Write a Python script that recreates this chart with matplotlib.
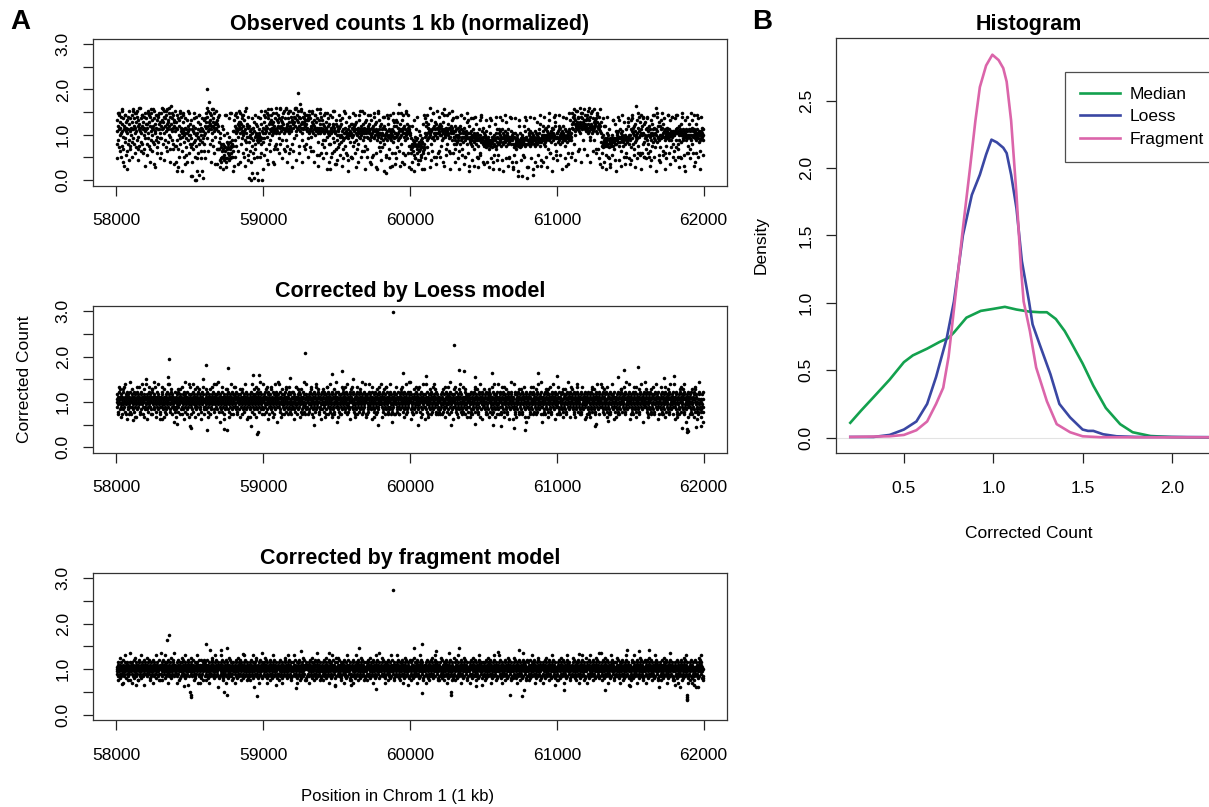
import numpy as np
import matplotlib
matplotlib.use("Agg")
import matplotlib.pyplot as plt

plt.rcParams['font.family'] = ['Liberation Sans', 'DejaVu Sans']

# ---------------- data ----------------
# Panel A: one string per 100 kb segment (58000 ... 62000); each character is one point.
# value = 1.0 + (index of character in ALPHABET - 25) * step   ('p' is 1.0)
ALPHABET = "0123456789abcdefghijklmnopqrstuvwxyzABCDEFGHIJKLMNOPQRSTUVWXYZ"
observed_step = 0.04
loess_step = 0.055
fragment_step = 0.05

observed_codes = [
    "rxkuBmsAiwptdzqjvCroyh8uslAnwrtgxqkzsmvbrjyps",
    "tAlwsDnuykqBtiwrzmCuohxsvjEtrlyqAkuswfzptnBrv",
    "sykvtCnqAjwuhzrmBtpxlsDuk9yqvrAmtioxszlBsvnwq",
    "uBnxsEkwtzqCmuyrAivtDlwsxpBuohzvFsmyrAtkxuwjC",
    "rwjtAmsyh7upxCnkrtzqo5srBwpldtqyinsaxqrmuBpsk",
    "pvixnsk2ruhqyl0mtpzjc5qwnsoAk3rmvgtplysnr1pxk",
    "uyqBtwnzOrCuswHkvxuAsmqDwuyjtBrvo9twsxhvzurAl",
    "hnbqckigudkhsbjpeiAgca7hlqfkioeyhlcBjfikdmrgj8",
    "rxmuAqtjzrsvo9uwsBwqkvtrnyuAqpdrxmsClqhvuotzb",
    "oulrgpn0syqjtmf1rwokhvqpmu4onzlqpsdomvkCrn0ql",
    "twnAsqzuhrotBy9AvqkmwsDxrpvtBsqwhurjysEqkxtrw",
    "uAnyqtEkxruzmwsvtCqhsyrDmtvjusBrywqfutCzsrxkw",
    "vBtznwuDyrEpxAtMwsjzuyrGtCvqwmztsyvjwuxAsvkxr",
    "tynxqAryisotuCrwgqvxsuAtprwsDtyqlsexrtvBqsztk",
    "rxmvsiuqBrmstwo6rqyukpvrkAtqsrzfnuvrClt9qrxvh",
    "pumsirptkxoupvlroyhmsqnCjtqorwepqsnbpuzqrlpvd",
    "qvotjspulrAvsmqwhpsrktqxoCsnrupgsqvmrBtoqwjrs",
    "qxorhuntqrvmsAxpoqtdrsuonzvrpw7sqmrBopqxisuql",
    "pvnsiqmtpkzupnsd4qrmpvoyhspnrAmqo8pslrxuonwfq",
    "qxoupwimqtnGrsovBpkxrsqfto9uqmsBpqvrntAqsjurp",
    "jqhnfkiugmjexlkocjsmfhnjkbgrlpjhmeklinvgfh6ki",
    "qyoupwimqtnvrsoEqpkxrsgntoBuqmswpqvdntoqsfurz",
    "qvptjupmsrqwnAsDrpohtqksrvpqnBtfsoqurxmtqyrok",
    "oumrhpkslzotmpgroukqAsmhonrqlytomqdnprwkoxnq8",
    "nulqmokrnjpmsyolqhmpnvkomnqcpjsnmxepnlzmrnokt",
    "lqjomkpirlmjnkolhumjqlkxmiolnamjkpnvmqjhsloke",
    "nskqmplrnjoxsnlqkonpmrljowqmpknsoclnmzorkpnm7",
    "kqioenjqkhmlpkn2jlukmiqlnkjpmoelknumjrkoxn1km",
    "mskqlpnjrmnkoqmlp3nkmomrjqnlwpkonmslqjmvn8lpm",
    "oumrnpksljotmpnrouhqpxmfonrqlptomqsnpzuwkoenq",
    "oqlrnumsopktnqorlpmuqnopsjmroynpl9oqmsrnpxoqm",
    "vBtzswkAyrvpxutCwsvzuyrhtwvqBuztsyvmwuxDsvtxr",
    "uAsyqtvExrouzmsvtCqusyrwmtvxuhyrBwqhutvzsrDuw",
    "lqjofkpiulmjnkulemnjqdkpmisln7mjkpnlmxjhnlvkm",
    "nrkqmplrnjoxsnlqgonpmrljownmpknsodlnmwoukpnm9",
    "pxisnrytkquhpvlroFpmxqnfjtzorwepqsAfpuyqkldvn",
    "pwhsoymtpkrupdsogqxmpvjqlspnAtmqiEpslrzuonbwm",
    "puisnxotpgqvoyrmsfqopjrtnApqmsoxpqirmpzoqkrpg",
    "pyrqismtAqkrhupmsqdpvlrpzqsmnrp8qoxmsprnfojps",
    "pvnrhsmpxtkpropsAnqrfovmqpsnyqrlpmgqpnrotqpms",
]

observed_edge_codes = [
    "cBgDaAe6Ch", "dCfBbEgAh8", "eBaDgC7fAc", "fDbCgEaBh9", "a5dBgA9eCf",
    "2aBd0fAc5g", "cEgBaDfC9h", "7a6cAcbBd5", "dBgCaAf8Ee", "1a4cAd0yf6",
    "eCbDgAa9Bh", "fDcBgEaCh7", "gEbCfDaBhA", "dCgBaAe8Df", "cAfBa6dCg9",
    "bAe8cBf5zd", "cBf7aAdCg6", "dAa9eBf6Cg", "bz5eAc7fB9", "cBg8aAeCf7",
    "6a5cz9bd6A", "cAf7bBd9Cg", "dBa8eAg6Cf", "azc6Ae9dBf", "5yb8zd7fAa",
    "9xa7yc6ezb", "6zb5Ac8dya", "6ya5xb2dz7", "7zc6ya8eAb", "azd7Bf5cAg",
    "bAe6zc8fBd", "fDbCgEaBhA", "eCaBgDfAc9", "7ya6zc9exb", "5zb8Ad9fyc",
    "bAe7cBf6zd", "czf8bAd5Be", "aBe6cAf9zd", "bAd7cBe5zf", "cBf8aAd6ze",
]

loess_codes = [
    "pqnsorlqtpmrqunoskpqrmtopqvnrlpsqokrtpnqmsprolqtnpk",
    "qpsnrmoqtlprqnsjopqrtmqspnovrqlpsmqtrponqkrsupqmrnw",
    "oqrpmsnqlrtpoqnsmrpqkutoprqnmsqpvrolqpnrtsmqoprnlqi",
    "rpqnsotqmpruoqlnpsqrmptoqwnprsqlomqtrpnsqkoprqmnptl",
    "pnqrmospqltnrpoqusmpqrknpsqomrtpqnlsorpqmtrpnqosjpv",
    "qrpnsoqmptrlqposnrqupmoqsrnpktqporsmnqplrqtosvpmqnk",
    "nqprosmqtplrqnposkrqupmnsqroptqlmrpsoqnrwpmqstopqrl",
    "pqsnrmopqtlrpnqsoimrqpuonsqrpmtqlpornsqkpqrtmopnqsv",
    "rpnqsomrtpqlnsqrpmoqupsnrqkptoqmrsplnqortpqmsnrpqoj",
    "oqprnmsqtplorqnspmrquposnqrjptmqsorpnlqrtpsmoqpnrqw",
    "mqsptrnolqrvpomsqtnprkqosnmpuqrlotpqsnkrqmpotsrqnpx",
    "sqnoprtmlpqrsokupqnmrsotpqlnvrpqomskrtpnqolsmpqrtno",
    "tpnqrmsolpqvrnoqkspmrtqnposlqrupmqnotrsplkqonrsmqpr",
    "nrqposmltqrpnuoqskmrpqtnolsprqmvnpoqrtslkpmqnrosqpt",
    "qmoprsntlpqorkmsqpvnrotqpslmnrqpotkqsrnmpluoqrsnptq",
    "oprqnmtslqpornkqsmpvtrqonpslrqmtponksqrlopmnqtrspqu",
    "rnqpomstqlprnkoqsmrpvtnqopslmqrtpnoksqrlmpqontrspqj",
    "kpqrsonmltpqrnosqmprvtqnoplsmqrptnokqsrlmpqnotsrpqw",
    "qposrnmtlqprokqsnmpvrtqonplsmrqptnkoqsrlmpqontrsqpk",
    "psqornmltpqrkonsqmprtvqnoplsmqrtpnokqsrlmpqnotrspqx",
    "tqmpsronlkpqrsumoqnptrlqsompnrvqopslnqtrkmposqrnpqi",
    "nqsrpmotlqrpksnoqupmrsqtlonpqrmswpoqnrltkpqosmrnpql",
    "rmpqosnktrqplosnqmvpqrtonslqprmoqkstnprqlomqpsrnqpu",
    "sponqrtmlkqpsrnoumqprtlnsoqpmrqvlonptrkqsmopnrqslpq",
    "qrnopsmtklpqrosnmqtpurlqsnoprmqklotsqnpjrmpqosrtnqp",
    "ponqsrmtlkpqnorsmqptulqrsonpmqrkltosqnprmjpqosrntqw",
    "omqprsntlkqponrsmqtpvlqrosnpmqrkltsoqnprmpqsortnqpi",
    "rpqonmstlkqpnrosmqtpulqrnospmqrkltosqnpqrmpjsortnqp",
    "qnprosmtlkrpqnosmqtpvlqrsonpmrqkltsoqnpqrmpsoxrtnqp",
    "npqrosmltkqprnosmqtpulqrsonpmrqklstoqnprqmpsortnqpk",
    "sqopnrmtlkqprsonmqtpulqsronpmrqklstoqnprqmpsortnqpv",
    "pqsrnomltkqpsrnomqtpvlqrsonpmrqkltsoqnprqmpsortnqpj",
    "oqpsrnmtlkqposrnmqtpulqrsonpmrqklstoqnprqmpsortnqpw",
    "qpornsmltkqprosnmqtpvlqrsonpmrqkltsoqnprqmpsortnqpl",
    "rqpnosmtlkqpnrosmqtpulqrsonpmrqklstoqnprqmpsortnqpi",
    "pqrsonmltkqprsonmqtpvlqrsonpmrqkltsoqnprqmpsortnqpx",
    "oqprnsmtlkqpornsmqtpulqrsonpmrqklstoqnprqmpsortnqpk",
    "nqprosmltkqpnrosmqtpvlqrsonpmrqkltsoqnprqmpsortnqpw",
    "pqronsmtlkqpqronsmqtpulqrsonpmrqklstoqnprqmpsortnqp",
    "oqpnrsmltkpqoqnrsmqtpulqrsonpmlkqlstoqnmpqlmpsontnql",
]

loess_edge_codes = [
    "kvjuwikx", "ujvkwj", "ivkuxjwk", "vjkwuh", "jukvixkw", "kwjvuiy", "ujkvwjx", "hvkujwk",
    "vkjuwi", "jwkvuxk", "kuivjwh", "wjkuvk", "ivujkxw", "kvjwui", "ujvkwjkx", "jkuvwi",
    "vjkuxw", "kwijuv", "juvkwhk", "vkujwx", "ikvujw", "wjkvuk", "kujvxi", "vjwkuj",
    "jkvuwi", "ukjvwk", "kvjuix", "wjkuvh", "jvkuwk", "kujvwi", "vkjuxj", "ujwkvi",
    "kjvuwk", "vujkwi", "jkuvxw", "kvjuwh", "ujkvwi", "vkjuwk", "ijkvuwhj", "kujvixjh",
]

fragment_codes = [
    "pqonrmspqolrnpqsmoqpnrtoqpmnsqorplqnpsomqrpnoqksprq",
    "oqpnsmrqpotlpqnrsmopqnrkpqostmpnqrolpqsnmrpqotnsrpq",
    "qpormnsqptoqnlprqsmopnqrtopqmsnprqolnpqsrmopqtnkrqp",
    "pnqrosmpqtonrpqlsmoqrpnsqoptmrnqposlqmprnoqstpqrmno",
    "rqpnosmqprtnopqlsrmqponsqrptomnqrpslqomprnqostpqrmp",
    "opqnrsmoqptrnpqolsmrqpnosqrpjtmnqprotlqmprnoqstpqr",
    "smpqronqtmpolrqnspomqrpntqsomprlnqposrmqtpnorqpsml",
    "qrmponsqtrpomnlqpsrnoqmtprqsnolpmqrtonspqmrpnolqsp",
    "ponrqsmtoqplnrqospmnrqtpsoqmrnlpqosrmptqnoprsqlmpo",
    "rnpqomsqrtponlqsmrpoqnsrtpmqonlprqsomptnqrposlmqpr",
    "qosnprmqtropnlsqmprqontspqmrolnpqsrmotpqnrposlqmpn",
    "nrpqsomtqprnolqspmroqnstpqrmonlpqsromtpqnrposlmqpq",
    "osqprnmtqropnlsqmprqontspqmrolnpqsrmotpqnrkpslqmpr",
    "pqnrosmqtprnoqlspmrqonspqtrmonlpqsrmotpqnrposlqmpo",
    "rpqnsomtqprnolqsmprqonstpqrmonlpsqrmotpqnrposlqmpu",
    "qpsnromtqprnoqlsmprqonstpqrmonlpsqrmotpqnrposlqmpk",
    "nqprsomtqpnrolqsmprqnostpqrmonlpsqrmotpqnrposlqmps",
    "oqrpnsmtqprnolqsmprqonstpqrmonlpsqrmotpqnrposlqmpq",
    "pronqsmtqprnolqsmprqonstpqrmonlpsqrmotpqnrposlqmpr",
    "qnorpsmtqprnolqsmprqonstpqrmonlpsqrmotpqnrposlqmpt",
    "pqsonrmqtplronqsmpqrontsqpmrnolqpsrmtoqpnrspolqmpr",
    "oqrnpsmtpqlronsqmprqontspqmrnlopqsrmtoqpnrspolqmpk",
    "rpsqonmqtplronqsmpqrontsqpmrnolqpsrmtoqpnrspolqmpu",
    "nqpsormtqplronsqmpqrontspqmrnolqpsrmtoqpnrspolqmpq",
    "qposnrmtqplrnosqmprqontspqmrnolqpsrmtoqpnrspolqmps",
    "pnqrsomqtplronsqmprqontspqmrnolqpsrmtoqpnrspolqmpo",
    "rqopsnmtqplronsqmprqontspqmrnolqpsrmtoqpnrspolqmpl",
    "oprqnsmqtplronsqmprqontspqmrnolqpsrmtoqpnrspolqmpt",
    "qsponrmtqplronsqmprqontspqmrnolqpsrmtoqpnrspolqmpr",
    "pqrsnomqtplronsqmprqontspqmrnolqpsrmtoqpnrspolqmpk",
    "nopqrsmtqplronsqmprqontspqmrnolqpsrmtoqpnrspolqmpq",
    "qrnpsomtqplronsqmprqontspqmrnolqpsrmtoqpnrspolqmpu",
    "oqsprnmqtplronsqmprqontspqmrnolqpsrmtoqpnrspolqmpo",
    "prqosnmtqplronsqmprqontspqmrnolqpsrmtoqpnrspolqmps",
    "qnpsromqtplronsqmprqontspqmrnolqpsrmtoqpnrspolqmpl",
    "rpqnosmtqplronsqmprqontspqmrnolqpsrmtoqpnrspolqmpt",
    "oqnrpsmqtplronsqmprqontspqmrnolqpsrmtoqpnrspolqmpr",
    "psqornmtqplronsqmprqontspqmrnolqpsrmtoqpnrspolqmpk",
    "qoprsnmqtplronsqmprqontspqmrnolqpsrmtoqpnrspolqmpq",
    "pnqosrmtqplronsqmpkqontspqmrnolqpsrmtoqpnrspolqmlp",
]

fragment_edge_codes = [
    "kujvkw", "jukvi", "ukjvk", "kvjuw", "jkuvi", "ukvjk", "kjuvh", "vkjuk",
    "jukvk", "kvujw", "ujkvi", "kjuvk", "vjkuk", "jukwk", "kujvi", "ukjvk",
    "jvkuk", "kujvw", "ujkvk", "vkjui", "kujvk", "jkuvk", "ukjwk", "kvjuk",
    "jukvi", "kujvk", "vjkuk", "ujkwk", "kvjuk", "jukvi", "kujvk", "ukjvk",
    "jvkuw", "kujvk", "ujkvi", "kvjuk", "jukvk", "kujwk", "ijhkuvj", "kjihuvk",
]

# isolated points (position kb, value)
loess_extra_pos = [59882, 60297, 59285, 58359, 58608, 58763, 61552, 61461, 60370, 60333,
                   59949, 59540, 59468, 60560, 60875, 61420, 61000, 61800, 58350, 58200,
                   58930, 58970, 59180, 59610, 60110, 60440, 61730,
                   58503, 58505, 58959, 58962, 58614, 58735, 58752, 61890, 61892, 61885,
                   61850, 60786, 60710, 59349, 60280, 60055, 61260, 61270, 59780, 58410,
                   58920, 60620, 61950, 61985, 60445, 60565, 58110, 58310, 59500, 60900, 61350]
loess_extra_val = [2.98, 2.26, 2.07, 1.95, 1.81, 1.75, 1.76, 1.70, 1.69, 1.70,
                   1.64, 1.67, 1.62, 1.64, 1.64, 1.55, 1.56, 1.58, 1.55, 1.50,
                   1.60, 1.60, 1.52, 1.50, 1.57, 1.55, 1.53,
                   0.47, 0.42, 0.30, 0.34, 0.37, 0.40, 0.39, 0.33, 0.36, 0.40,
                   0.42, 0.38, 0.43, 0.50, 0.50, 0.50, 0.47, 0.52, 0.49, 0.52,
                   0.47, 0.47, 0.45, 0.47, 0.52, 0.50, 0.60, 0.62, 0.55, 0.55, 0.58]

fragment_extra_pos = [59882, 58355, 58345, 58610, 58635, 58710, 58755, 60082, 60336, 60030,
                      59650, 60740, 61480, 61560, 61630, 59260, 60180, 60600, 61300, 58300,
                      58860, 59450, 61150,
                      58506, 58508, 58503, 58959, 58735, 58752, 61887, 61888, 61885, 61886,
                      60280, 60282, 60680, 60760, 60085, 59220, 59770, 61330, 61050, 60780,
                      58460, 58940, 59490, 61700, 61960, 58130, 58040, 60450, 59600, 61500]
fragment_extra_val = [2.73, 1.75, 1.63, 1.55, 1.43, 1.41, 1.47, 1.56, 1.46, 1.47,
                      1.47, 1.41, 1.41, 1.39, 1.41, 1.40, 1.39, 1.37, 1.35, 1.35,
                      1.33, 1.36, 1.33,
                      0.38, 0.44, 0.50, 0.40, 0.50, 0.44, 0.38, 0.31, 0.34, 0.42,
                      0.43, 0.50, 0.44, 0.41, 0.48, 0.59, 0.57, 0.53, 0.55, 0.55,
                      0.62, 0.60, 0.62, 0.60, 0.60, 0.66, 0.68, 0.62, 0.64, 0.63]

segment_starts = list(range(58000, 62000, 100))

# Panel B: density curves
median_x = [0.20, 0.26, 0.33, 0.42, 0.50, 0.55, 0.63, 0.70, 0.75, 0.78, 0.85, 0.93, 1.00, 1.065,
            1.13, 1.20, 1.26, 1.30, 1.35, 1.40, 1.43, 1.50, 1.56, 1.63, 1.71, 1.78, 1.88, 2.00,
            2.10, 2.28]
median_y = [0.11, 0.20, 0.30, 0.43, 0.56, 0.61, 0.66, 0.71, 0.74, 0.78, 0.89, 0.94, 0.955, 0.97,
            0.95, 0.935, 0.93, 0.93, 0.88, 0.79, 0.72, 0.55, 0.385, 0.22, 0.10, 0.04, 0.012, 0.004,
            0.002, 0.0]
loess_x = [0.20, 0.33, 0.42, 0.50, 0.57, 0.63, 0.68, 0.74, 0.78, 0.83, 0.88, 0.925, 0.96, 0.99,
           1.02, 1.056, 1.075, 1.10, 1.13, 1.16, 1.20, 1.22, 1.26, 1.32, 1.37, 1.43, 1.50, 1.53,
           1.56, 1.615, 1.69, 1.80, 2.00, 2.28]
loess_y = [0.005, 0.005, 0.02, 0.06, 0.12, 0.25, 0.45, 0.74, 1.01, 1.50, 1.80, 1.95, 2.10, 2.21,
           2.19, 2.15, 2.11, 1.95, 1.70, 1.31, 1.01, 0.84, 0.69, 0.47, 0.25, 0.15, 0.06, 0.05,
           0.05, 0.025, 0.01, 0.005, 0.005, 0.003]
fragment_x = [0.20, 0.42, 0.50, 0.57, 0.63, 0.68, 0.72, 0.75, 0.785, 0.83, 0.87, 0.90, 0.925,
              0.96, 0.995, 1.03, 1.056, 1.075, 1.10, 1.13, 1.155, 1.17, 1.205, 1.24, 1.30,
              1.355, 1.43, 1.50, 1.60, 2.00, 2.28]
fragment_y = [0.005, 0.01, 0.02, 0.055, 0.12, 0.25, 0.37, 0.60, 1.01, 1.55, 2.00, 2.35, 2.60,
              2.76, 2.84, 2.80, 2.74, 2.64, 2.35, 1.80, 1.26, 1.01, 0.79, 0.52, 0.27,
              0.10, 0.04, 0.01, 0.003, 0.002, 0.002]

titles_a = ["Observed counts 1 kb (normalized)", "Corrected by Loess model",
            "Corrected by fragment model"]
legend_labels = ["Median", "Loess", "Fragment"]
line_colors = ["#13A14E", "#3A47A3", "#DB65AA"]


def decode(codes, step, starts, offset=1.0):
    xs, ys = [], []
    for s, row in zip(starts, codes):
        vals = [1.0 + (ALPHABET.index(c) - 25) * step for c in row if not c.isspace()]
        n = len(vals)
        xs.extend(np.linspace(s, s + 100, n, endpoint=False) + offset)
        ys.extend(vals)
    return xs, ys


def build(code_sets, extra_pos, extra_val):
    xs, ys = [], []
    for codes, step, off in code_sets:
        x, y = decode(codes, step, segment_starts, off)
        xs.extend(x)
        ys.extend(y)
    xs.extend(extra_pos)
    ys.extend(extra_val)
    return np.array(xs), np.array(ys)


W, H = 1209, 807
fig = plt.figure(figsize=(W / 100, H / 100), dpi=100)


def rect(l, t, r, b):
    return [l / W, 1 - b / H, (r - l) / W, (b - t) / H]


TICK_FS = 12.5
panel_rects = [(93, 38.7, 727, 185.5), (93, 305.7, 727, 452.7), (93, 572.7, 727, 720)]
datasets = [
    build([(observed_codes, observed_step, 1.0), (observed_edge_codes, observed_step, 5.0)],
          [], []),
    build([(loess_codes, loess_step, 1.0), (loess_edge_codes, loess_step, 7.0)],
          loess_extra_pos, loess_extra_val),
    build([(fragment_codes, fragment_step, 1.0), (fragment_edge_codes, fragment_step, 9.0)],
          fragment_extra_pos, fragment_extra_val),
]

for i, (r, (xs, ys)) in enumerate(zip(panel_rects, datasets)):
    ax = fig.add_axes(rect(*r))
    ax.scatter(xs, ys, s=6.5, c='black', linewidths=0, marker='o')
    ax.set_xlim(57840, 62160)
    ax.set_ylim(-0.12, 3.12)
    ax.set_xticks([58000, 59000, 60000, 61000, 62000])
    ax.set_xticklabels(["58000", "59000", "60000", "61000", "62000"], fontsize=TICK_FS)
    ax.set_yticks([0, 0.5, 1.0, 1.5, 2.0, 2.5, 3.0])
    ax.set_yticklabels(["0.0", "", "1.0", "", "2.0", "", "3.0"], fontsize=TICK_FS,
                       rotation=90, va='center')
    ax.tick_params(axis='both', direction='out', length=7, width=0.9, color='#222222')
    ax.tick_params(axis='x', pad=13)
    ax.tick_params(axis='y', pad=9)
    for sp in ax.spines.values():
        sp.set_linewidth(0.9)
        sp.set_color('#333333')
    ax.set_title(titles_a[i], fontsize=15.5, fontweight='bold', pad=6)
    if i == 1:
        ax.set_ylabel("Corrected Count", fontsize=12.5, labelpad=17)

fig.text(398 / W, 1 - 797 / H, "Position in Chrom 1 (1 kb)", fontsize=12,
         ha='center', va='center')

# Panel B
axb = fig.add_axes(rect(836, 38, 1222, 453))
axb.axhline(0, color='#e3e3e3', lw=0.8, zorder=1)
handles = []
for xv, yv, col, lab in zip([median_x, loess_x, fragment_x], [median_y, loess_y, fragment_y],
                            line_colors, legend_labels):
    ln, = axb.plot(xv, yv, color=col, lw=1.9, label=lab, zorder=3, solid_joinstyle='round')
    handles.append(ln)
axb.set_xlim(0.12, 2.28)
axb.set_ylim(-0.114, 2.964)
axb.set_xticks([0.5, 1.0, 1.5, 2.0])
axb.set_xticklabels(["0.5", "1.0", "1.5", "2.0"], fontsize=TICK_FS)
axb.set_yticks([0, 0.5, 1.0, 1.5, 2.0, 2.5])
axb.set_yticklabels(["0.0", "0.5", "1.0", "1.5", "2.0", "2.5"], fontsize=TICK_FS,
                    rotation=90, va='center')
axb.tick_params(axis='both', direction='out', length=7, width=0.9, color='#222222')
axb.tick_params(axis='x', pad=13)
axb.tick_params(axis='y', pad=9)
for sp in axb.spines.values():
    sp.set_linewidth(0.9)
    sp.set_color('#333333')
axb.set_title("Histogram", fontsize=15.5, fontweight='bold', pad=6)
axb.set_xlabel("Corrected Count", fontsize=12.5, labelpad=22)
axb.set_ylabel("Density", fontsize=12.5, labelpad=22)

leg = fig.legend(handles=handles, labels=legend_labels, loc='upper left',
                 bbox_to_anchor=(1065 / W, 1 - 72 / H), bbox_transform=fig.transFigure,
                 fontsize=12.5, frameon=True, fancybox=False, borderaxespad=0,
                 handlelength=2.3, handletextpad=0.6, labelspacing=0.42, borderpad=0.85)
leg.get_frame().set_edgecolor('#222222')
leg.get_frame().set_linewidth(0.9)

fig.text(10 / W, 1 - 22 / H, "A", fontsize=20, fontweight='bold', va='center', ha='left')
fig.text(752 / W, 1 - 22 / H, "B", fontsize=20, fontweight='bold', va='center', ha='left')

fig.savefig("out.png", dpi=100)
